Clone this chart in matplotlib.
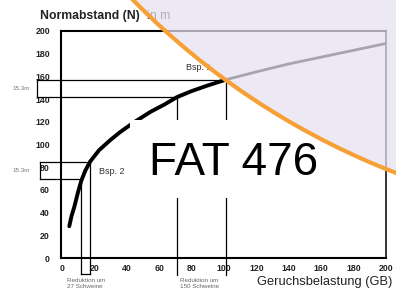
import matplotlib
matplotlib.use("Agg")
import matplotlib.pyplot as plt
from matplotlib.patches import Ellipse, Rectangle

plt.rcParams['font.family'] = ['Liberation Sans', 'DejaVu Sans']

# data
x_ticks = [0, 20, 40, 60, 80, 100, 120, 140, 160, 180, 200]
y_ticks = [0, 20, 40, 60, 80, 100, 120, 140, 160, 180, 200]

curve_x = [4.6, 6, 7.7, 10, 12, 14.5, 17.5, 23, 30, 36, 45, 55, 63, 71, 80, 90, 101]
curve_y = [28, 37, 45, 58, 68, 77, 85, 95, 104, 111, 120, 129, 135, 141.7, 147, 152, 157]
gray_x = [101, 120, 140, 160, 180, 200]
gray_y = [157, 164, 171, 177, 183, 189]

bsp1_x = [71, 101]
bsp1_y = [141.7, 157]
bsp2_x = [12, 17.5]
bsp2_y = [69.7, 85]

W, H = 396, 292

def fx(p):
    return p / W

def fy(p):
    return 1 - p / H

fig = plt.figure(figsize=(W / 100, H / 100), dpi=100)
ax = fig.add_axes([fx(61), fy(258), (386 - 61) / W, (258 - 31) / H])
ax.set_xlim(-0.5, 200)
ax.set_ylim(0, 200)

for s in ax.spines.values():
    s.set_linewidth(1.5)
    s.set_color("black")
ax.spines["right"].set_linewidth(1.1)

ax.set_xticks(x_ticks)
ax.set_yticks(y_ticks)
ax.set_xticklabels([str(v) for v in x_ticks])
ax.set_yticklabels([str(v) for v in y_ticks])
ax.tick_params(length=0, labelsize=6.3, colors="#222222")
ax.tick_params(axis="y", pad=8)
ax.tick_params(axis="x", pad=4.5)
for lab in ax.get_xticklabels() + ax.get_yticklabels():
    lab.set_fontweight("bold")

# main curve
ax.plot(curve_x, curve_y, color="black", lw=2.8, solid_capstyle="round", zorder=3)
ax.plot(gray_x, gray_y, color="black", lw=2.0, zorder=3)

# example lines (horizontal to bracket, vertical to below the axis)
for xs, ys, xb, ybot in [(bsp1_x, bsp1_y, -15.5, -15), (bsp2_x, bsp2_y, -13.5, -14)]:
    for xv, yv in zip(xs, ys):
        ax.plot([xb, xv], [yv, yv], color="black", lw=0.9, clip_on=False, zorder=2)
        ax.plot([xv, xv], [ybot, yv], color="black", lw=0.9, clip_on=False, zorder=2)
    ax.plot([xb, xb], ys, color="black", lw=0.9, clip_on=False, zorder=2)
ax.plot([bsp2_x[0], bsp2_x[1]], [-14, -14], color="black", lw=0.9, clip_on=False)

# texts
fig.text(fx(40), fy(16), "Normabstand (N)", fontsize=8.8, fontweight="bold",
         color="#222222", va="center", ha="left")
fig.text(fx(147), fy(16), "in m", fontsize=8.8, color="#222222", va="center", ha="left")
fig.text(fx(392), fy(282), "Geruchsbelastung (GB)", fontsize=9.3, color="#222222",
         va="center", ha="right")
fig.text(fx(12), fy(89), "15.3m", fontsize=4.5, color="#777777", va="center")
fig.text(fx(12), fy(170), "15.3m", fontsize=4.5, color="#777777", va="center")
fig.text(fx(99), fy(172), "Bsp. 2", fontsize=6.5, color="#333333", va="center")
fig.text(fx(186), fy(68), "Bsp. 1", fontsize=6.5, color="#333333", va="center")
fig.text(fx(67), fy(278), "Reduktion um\n27 Schweine", fontsize=4.5, color="#666666",
         va="top", ha="left", linespacing=1.2)
fig.text(fx(180), fy(278), "Reduktion um\n150 Schweine", fontsize=4.5, color="#666666",
         va="top", ha="left", linespacing=1.2)

# white label box with "FAT 476"
fig.add_artist(Rectangle((fx(130), fy(198)), (335 - 130) / W, (198 - 120) / H,
                         transform=fig.transFigure, facecolor="white",
                         edgecolor="none", zorder=4))
fig.text(fx(149), fy(175), "FAT 476", fontsize=33, color="black",
         va="baseline", ha="left", zorder=4.5)

# lavender overlay with orange arc
cx, cy, r = 664.7, -521.9, 745
fig.add_artist(Ellipse((fx(cx), fy(cy)), 2 * r / W, 2 * r / H,
                       transform=fig.transFigure, facecolor=(230 / 255, 225 / 255, 241 / 255),
                       alpha=0.73, edgecolor="none", zorder=5))
fig.add_artist(Ellipse((fx(cx), fy(cy)), 2 * r / W, 2 * r / H,
                       transform=fig.transFigure, facecolor="none",
                       edgecolor="#F6A035", lw=3, zorder=6))

fig.savefig("out.png", dpi=100, facecolor="white")
